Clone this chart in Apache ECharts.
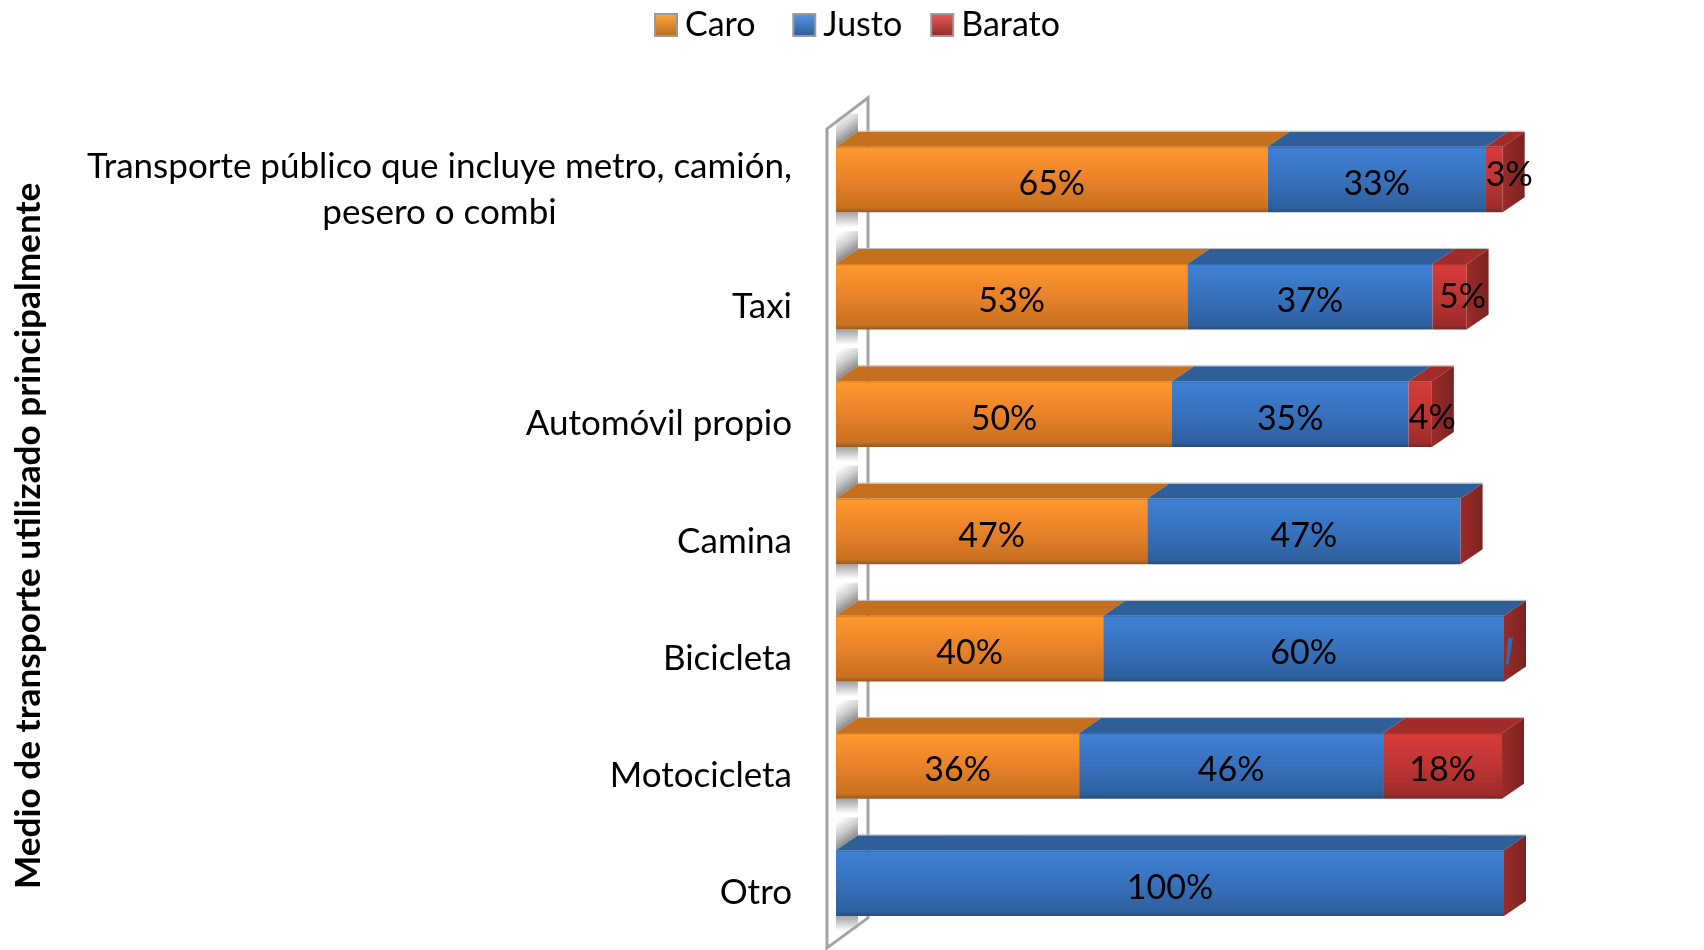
<!DOCTYPE html>
<html>
<head>
<meta charset="utf-8">
<title>Medio de transporte</title>
<script src="https://cdn.jsdelivr.net/npm/echarts@6/dist/echarts.min.js"></script>
<style>
    html, body { margin: 0; padding: 0; background: #fff; }
    #chart { width: 1704px; height: 950px; }
</style>
</head>
<body>
<div id="chart"></div>
<script>
var categories = [
    'Transporte público que incluye metro, camión,\npesero o combi',
    'Taxi',
    'Automóvil propio',
    'Camina',
    'Bicicleta',
    'Motocicleta',
    'Otro'
];
var caro = [64.6, 52.6, 50.3, 46.6, 40, 36.4, 0];
var justo = [32.7, 36.7, 35.4, 46.9, 60, 45.5, 100];
var barato = [2.5, 5.1, 3.5, 0, 0, 17.8, 0];
var seriesNames = ['Caro', 'Justo', 'Barato'];

// profundidad del efecto 3D
var DX = 22, DY = 15;
var FONT = 'Lato';

var grad = function (stops, horizontal) {
    return new echarts.graphic.LinearGradient(0, 0, horizontal ? 1 : 0, horizontal ? 0 : 1,
        stops.map(function (c) { return { offset: c[0], color: c[1] }; }));
};
var front = {
    Caro: grad([[0, '#c9791f'], [0.03, '#ff982c'], [0.5, '#e8812a'], [0.93, '#c9711f'], [1, '#8f5a22']]),
    Justo: grad([[0, '#2f68ad'], [0.03, '#3e80d4'], [0.5, '#3871bc'], [0.93, '#2d5f9e'], [1, '#2a4d78']]),
    Barato: grad([[0, '#a8302e'], [0.03, '#d63c3a'], [0.5, '#bd3533'], [0.93, '#9d2c2a'], [1, '#6f2a28']])
};
var topFace = { Caro: '#c4701e', Justo: '#2e5f99', Barato: '#a12c2a' };
// desplazamiento de las etiquetas que no caben en el segmento
var labelNudge = { 0: [15, -9], 1: [13, -4], 2: [12, -1] };

function poly(points, fill, stroke) {
    return {
        type: 'polygon',
        shape: { points: points },
        style: { fill: fill, stroke: stroke || null, lineWidth: stroke ? 1 : 0 }
    };
}

function renderSegment(name) {
    return function (params, api) {
        var cat = api.value(2);
        var value = api.value(1) - api.value(0);
        var a = api.coord([api.value(0), cat]);
        var b = api.coord([api.value(1), cat]);
        var h = api.size([0, 1])[1] * 0.56;
        var yT = a[1] - h / 2, yB = a[1] + h / 2;
        var kids = [];

        if (value > 0) {
            kids.push(poly([[a[0], yT], [a[0] + DX, yT - DY], [b[0] + DX, yT - DY], [b[0], yT]], topFace[name]));
            kids.push({ type: 'line', shape: { x1: a[0] + DX, y1: yT - DY - 0.5, x2: b[0] + DX, y2: yT - DY - 0.5 }, style: { stroke: '#bdbdbd', lineWidth: 1 } });
            kids.push({ type: 'rect', shape: { x: a[0], y: yT, width: b[0] - a[0], height: h }, style: { fill: front[name] } });
        }
        // la cara lateral siempre es roja, aunque no haya valor
        if (name === 'Barato') {
            kids.push(poly([[b[0], yT], [b[0] + DX, yT - DY], [b[0] + DX, yB - DY], [b[0], yB]],
                grad([[0, '#9b2b29'], [1, '#7a2321']], true)));
            if (params.dataIndex === 4) {
                kids.push(poly([[b[0] + 2, yT + 49], [b[0] + 4.5, yT + 49], [b[0] + 9, yT + 22], [b[0] + 4, yT + 22]], '#2f6aaf'));
            }
        }
        if (value > 0) {
            var nudge = name === 'Barato' && labelNudge[params.dataIndex] || [0, 0];
            kids.push({
                type: 'text',
                style: {
                    text: Math.round(value) + '%',
                    x: (a[0] + b[0]) / 2 + nudge[0],
                    y: a[1] + 4.5 + nudge[1],
                    align: 'center',
                    verticalAlign: 'middle',
                    font: '34px ' + FONT,
                    fill: '#000'
                }
            });
        }
        return { type: 'group', children: kids };
    };
}

function renderWall(params, api) {
    var sys = params.coordSys;
    var xF = sys.x - 9, xB = sys.x + 32;
    var yT = sys.y + 8, yE = sys.y + sys.height + 6;
    var kids = [poly([[xF, yT], [xB, yT - 31], [xB, yE - 30], [xF, yE]], '#fff')];
    var bx = sys.x, h = sys.height / categories.length * 0.56;

    categories.forEach(function (c, i) {
        var mid = api.coord([0, i])[1];
        var t = mid - h / 2, b = mid + h / 2;
        // degradado perpendicular a la diagonal de la barra
        var mx = bx + DX / 2, my = t - DY / 2;
        var shade = new echarts.graphic.LinearGradient(mx - 13.5, my - 20, mx, my, [
            { offset: 0, color: '#ffffff' },
            { offset: 0.5, color: '#d0d0d0' },
            { offset: 1, color: '#8c8c8c' }
        ], true);
        kids.push(poly([[bx, t], [bx + DX, t - DY], [bx + DX, t - 33], [bx, t - 33]], shade));
        kids.push(poly([[bx, b], [bx + DX, b], [bx + DX, b + 15], [bx, b + 15]],
            grad([[0, '#a3a3a3'], [1, '#ffffff']])));
    });
    kids.push(poly([[xF, yT], [xB, yT - 31], [xB, yE - 30], [xF, yE]], 'none', '#a3a3a3'));
    kids[kids.length - 1].style.lineWidth = 3;
    return { type: 'group', children: kids };
}

function buildData(values, before) {
    return values.map(function (v, i) {
        var start = before.reduce(function (s, arr) { return s + arr[i]; }, 0);
        return [start, start + v, i];
    });
}

var segs = [caro, justo, barato];
var chart = echarts.init(document.getElementById('chart'));
chart.setOption({
    animation: false,
    backgroundColor: '#fff',
    grid: { left: 836, top: 120.85, width: 668, height: 821, outerBoundsMode: 'none' },
    legend: {
        left: 649,
        top: 3,
        itemWidth: 22,
        itemHeight: 22,
        itemGap: 28,
        icon: 'rect',
        textStyle: { fontFamily: FONT, fontSize: 34, color: '#000', padding: [0, 0, 0, 3] },
        formatter: function (n) { return n === 'Caro' ? n + ' ' : n; },
        data: seriesNames
    },
    xAxis: { type: 'value', min: 0, max: 100, show: false },
    yAxis: {
        type: 'category',
        inverse: true,
        data: categories,
        name: 'Medio de transporte utilizado principalmente',
        nameLocation: 'middle',
        nameRotate: 90,
        nameGap: 790,
        nameTextStyle: { fontFamily: FONT, fontSize: 35.2, fontWeight: 'bold', color: '#000', padding: [0, 9, 0, 0] },
        axisLine: { show: false },
        axisTick: { show: false },
        axisLabel: {
            margin: 44,
            fontFamily: FONT,
            fontSize: 35,
            color: '#000',
            padding: [20, 0, 0, 0],
            lineHeight: 46,
            formatter: function (v) {
                return v.split('\n').map(function (l) { return '{c|' + l + '}'; }).join('\n');
            },
            rich: { c: { fontFamily: FONT, fontSize: 35, lineHeight: 46, color: '#000', align: 'center' } }
        }
    },
    series: [{
        type: 'custom',
        silent: true,
        renderItem: renderWall,
        data: [[0, 0, 0]],
        encode: { x: 0, y: 2 }
    }].concat(seriesNames.map(function (name, k) {
        return {
            type: 'custom',
            name: name,
            itemStyle: { color: grad(name === 'Caro' ? [[0, '#ffab3d'], [1, '#b8691c']] : name === 'Justo' ? [[0, '#5a9ae6'], [1, '#2b5a94']] : [[0, '#ea5c59'], [1, '#8c2826']]), borderColor: '#9a9a9a', borderWidth: 1 },
            renderItem: renderSegment(name),
            data: buildData(segs[k], segs.slice(0, k)),
            encode: { x: [0, 1], y: 2 }
        };
    }))
});
</script>
</body>
</html>
